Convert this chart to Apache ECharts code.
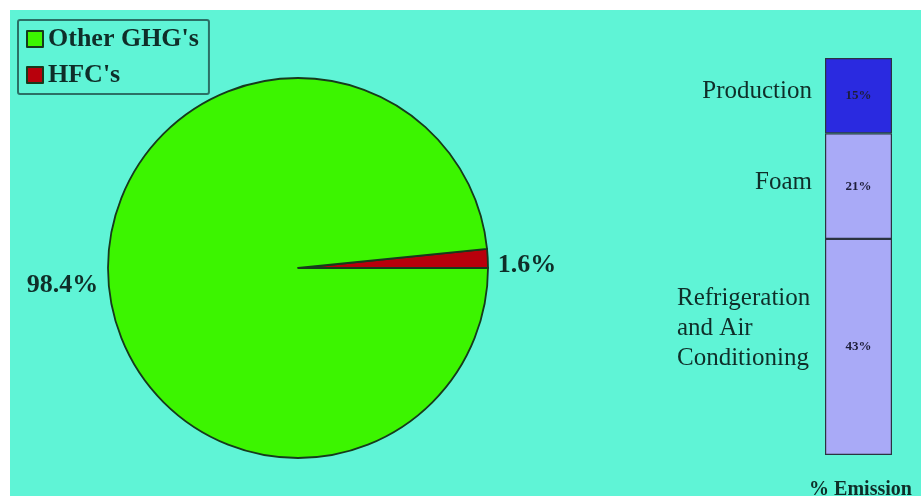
<!DOCTYPE html>
<html><head><meta charset="utf-8">
<script src="https://cdn.jsdelivr.net/npm/echarts@6/dist/echarts.min.js"></script>
<style>html,body{margin:0;padding:0;background:#fff}#c{width:921px;height:498px}</style>
</head><body><div id="c"></div>
<script>
var pieNames = ["HFC's", "Other GHG's"];
var pieValues = [1.6, 98.4];
var pieColors = ['#b8000c', '#3cf500'];
var barNames = ['Refrigeration\nand Air\nConditioning', 'Foam', 'Production'];
var barValues = [43, 21, 15];
var barColors = ['#a9aaf7', '#a9aaf7', '#2a2ae0'];
var barTotal = barValues.reduce(function(a,b){return a+b;},0);
var axisTitle = '% Emission';

var serif = '"Liberation Serif", "DejaVu Serif", serif';
var txt = '#0f2e29';
var chart = echarts.init(document.getElementById('c'));

var series = [{
  type: 'pie',
  center: [298, 268],
  radius: 190,
  startAngle: 360 * pieValues[0] / 100,
  clockwise: true,
  z: 2,
  itemStyle: {borderColor: '#163a1c', borderWidth: 1.8},
  label: {show: true, position: 'outside', formatter: function(p){return p.value.toFixed(1)+'%';},
          fontFamily: serif, fontWeight: 'bold', fontSize: 26, color: txt, distanceToLabelLine: 4},
  labelLine: {show: false, length: 6, length2: 0},
  labelLayout: {dy: 7},
  emphasis: {disabled: true},
  data: pieNames.map(function(n,i){return {name:n, value:pieValues[i], itemStyle:{color:pieColors[i]}};})
}];

barNames.forEach(function(n,i){
  series.push({
    type: 'bar', name: n, stack: 'a', xAxisIndex: 0, yAxisIndex: 0,
    barWidth: '100%',
    itemStyle: {color: barColors[i], borderColor: '#2b3340', borderWidth: 1.2},
    label: {show: true, position: 'inside', formatter: barValues[i] + '%',
            fontFamily: serif, fontWeight: 'bold', fontSize: 13, color: '#1d1d3a'},
    emphasis: {disabled: true},
    data: [barValues[i]]
  });
  var multi = n.indexOf('\n') >= 0;
  series.push({
    type: 'bar', name: n + '_lbl', stack: 'b', xAxisIndex: 1, yAxisIndex: 1,
    barWidth: '100%',
    itemStyle: {color: 'rgba(0,0,0,0)'},
    label: {show: true, formatter: n,
            position: multi ? [-148, '50%'] : [-13, '50%'],
            offset: multi ? [0, -19] : [0, -4],
            align: multi ? 'left' : 'right', verticalAlign: 'middle',
            fontFamily: serif, fontSize: 25, lineHeight: 30, color: txt},
    emphasis: {disabled: true},
    silent: true,
    data: [barValues[i]]
  });
});

chart.setOption({
  backgroundColor: '#ffffff',
  animation: false,
  graphic: [{type: 'rect', shape: {x: 10, y: 10, width: 911, height: 486}, style: {fill: '#5ff4d6'}, z: -10, silent: true}],
  legend: {
    data: pieNames.slice().reverse(),
    orient: 'vertical', left: 18, top: 20,
    padding: [6, 10, 6, 8], itemGap: 10,
    itemWidth: 16, itemHeight: 16, itemTextGap: 5, icon: 'rect',
    borderColor: '#2b7066', borderWidth: 2, borderRadius: 2,
    textStyle: {fontFamily: serif, fontWeight: 'bold', fontSize: 26, color: txt},
    selectedMode: false
  },
  grid: [{left: 825, width: 67, top: 58, height: 397, containLabel: false, outerBoundsMode: 'none'}],
  xAxis: [
    {type: 'category', data: [''], gridIndex: 0, show: true,
     name: axisTitle, nameLocation: 'middle', nameGap: 25,
     nameTextStyle: {fontFamily: serif, fontWeight: 'bold', fontSize: 20, color: txt, padding: [0, 0, 0, 4]},
     axisLine: {show: false}, axisTick: {show: false}, axisLabel: {show: false}},
    {type: 'category', data: [''], gridIndex: 0, show: false}
  ],
  yAxis: [
    {type: 'value', min: 0, max: barTotal, show: false, gridIndex: 0},
    {type: 'value', min: 0, max: barTotal, show: false, gridIndex: 0}
  ],
  series: series
});
</script></body></html>
